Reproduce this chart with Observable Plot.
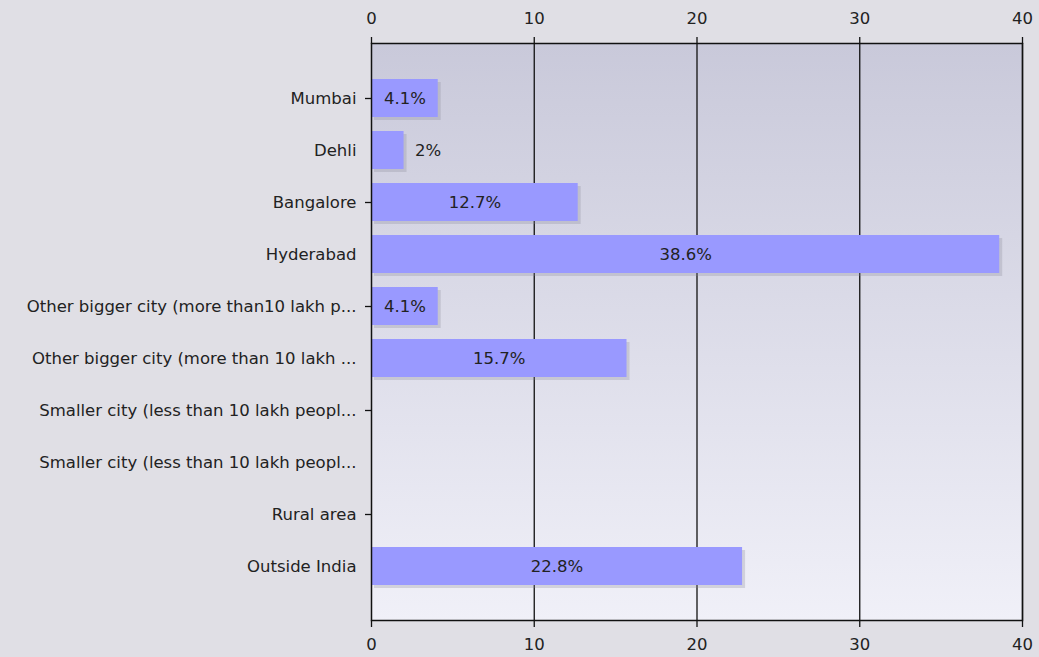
<!DOCTYPE html>
<html>
<head>
<meta charset="utf-8">
<script src="https://cdn.jsdelivr.net/npm/d3@7"></script>
<script src="https://cdn.jsdelivr.net/npm/@observablehq/plot@0.6"></script>
<style>
  html, body { margin: 0; padding: 0; background: #e0dfe5; }
  #chart svg { display: block; }
</style>
</head>
<body>
<div id="chart"></div>
<script>
const categories = [
  "Mumbai",
  "Dehli",
  "Bangalore",
  "Hyderabad",
  "Other bigger city (more than10 lakh p...",
  "Other bigger city (more than 10 lakh ...",
  "Smaller city (less than 10 lakh peopl...",
  "Smaller city (less than 10 lakh peopl...\u200b",
  "Rural area",
  "Outside India"
];
const values = [4.1, 2, 12.7, 38.6, 4.1, 15.7, 0, 0, 0, 22.8];
const valueLabels = ["4.1%", "2%", "12.7%", "38.6%", "4.1%", "15.7%", "", "", "", "22.8%"];
const xTicks = [0, 10, 20, 30, 40];

const data = categories.map((c, i) => ({cat: c, value: values[i], label: valueLabels[i], i}));
const tickedCats = categories.filter((c, i) => i % 2 === 0);

const font = "'DejaVu Sans', Verdana, sans-serif";
const fs = 16.5;

const chart = Plot.plot({
  width: 1039,
  height: 657,
  marginLeft: 371,
  marginRight: 17,
  marginTop: 43,
  marginBottom: 37,
  style: {background: "#e0dfe5", fontFamily: font, fontSize: fs + "px", color: "#222"},
  x: {domain: [0, 40], ticks: xTicks},
  y: {domain: categories, paddingInner: 0.27, paddingOuter: 0.66},
  marks: [
    Plot.frame({fill: "url(#plotbg)"}),
    Plot.ruleX(xTicks.slice(1), {stroke: "#111", strokeWidth: 1.3}),
    Plot.barX(data, {y: "cat", x: "value", fill: "#8a8a96", fillOpacity: 0.28, dx: 3, dy: 3}),
    Plot.barX(data, {y: "cat", x: "value", fill: "#9999ff"}),
    Plot.text(data.filter(d => d.value >= 4), {y: "cat", x: d => d.value / 2, text: "label", fill: "#222", fontSize: fs}),
    Plot.text(data.filter(d => d.value > 0 && d.value < 4), {y: "cat", x: "value", text: "label", textAnchor: "start", dx: 11, fill: "#222", fontSize: fs}),
    Plot.axisX({anchor: "top", ticks: xTicks, tickSize: 7, tickPadding: 13, label: null, fontSize: fs, stroke: "#111", strokeWidth: 1.3}),
    Plot.axisX({anchor: "bottom", ticks: xTicks, tickSize: 7, tickPadding: 11, label: null, fontSize: fs, stroke: "#111", strokeWidth: 1.3}),
    Plot.axisY({ticks: tickedCats, tickSize: 6, tickFormat: null, label: null, stroke: "#111", strokeWidth: 1.3}),
    Plot.axisY({tickSize: 0, tickPadding: 15, label: null, fontSize: fs, tickFormat: d => d.replace("\u200b", "")}),
    Plot.frame({stroke: "#111", strokeWidth: 1.5})
  ]
});

const svg = d3.select(chart);
const defs = svg.insert("defs", ":first-child");
const g = defs.append("linearGradient").attr("id", "plotbg").attr("x1", 0).attr("y1", 0).attr("x2", 0).attr("y2", 1);
g.append("stop").attr("offset", "0%").attr("stop-color", "#c9c9da");
g.append("stop").attr("offset", "100%").attr("stop-color", "#f0f0f8");

document.getElementById("chart").appendChild(chart);
</script>
</body>
</html>
